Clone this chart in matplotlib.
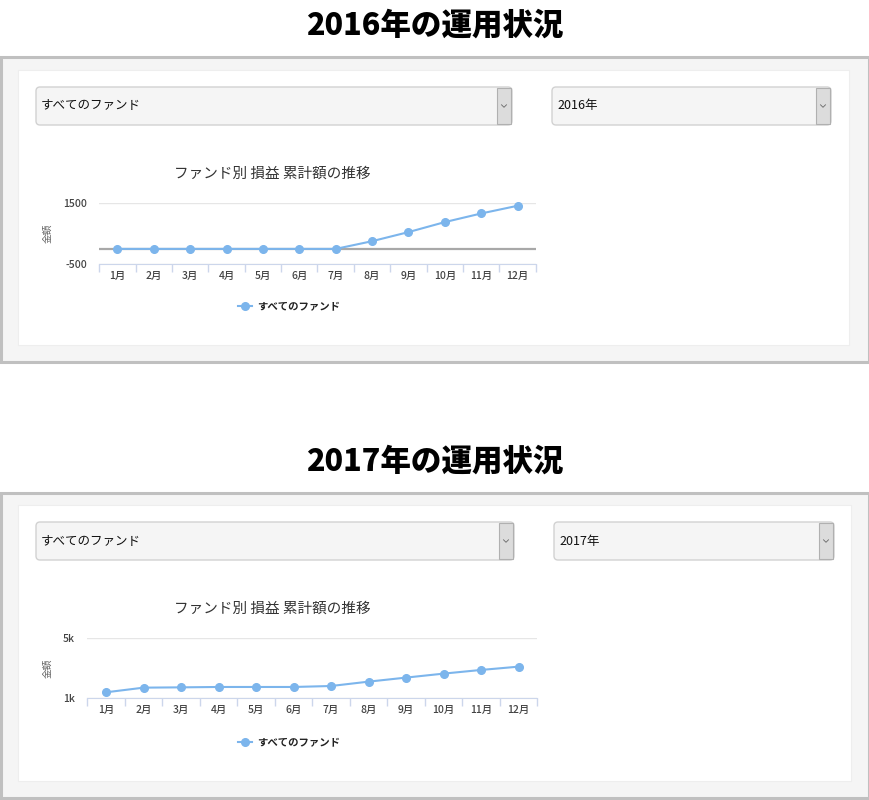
import numpy as np
import matplotlib
matplotlib.use('Agg')
import matplotlib.pyplot as plt
from matplotlib.patches import Rectangle, FancyBboxPatch
from matplotlib.lines import Line2D

plt.rcParams['font.family'] = ['Noto Sans CJK JP', 'DejaVu Sans']

# data
months = ['1月', '2月', '3月', '4月', '5月', '6月', '7月', '8月', '9月', '10月', '11月', '12月']
years = ['2016', '2017']
fund_label = 'すべてのファンド'
chart_title = 'ファンド別 損益 累計額の推移'
values_2016 = [0, 0, 0, 0, 0, 0, 0, 250, 545, 870, 1150, 1400]
values_2017 = [1400, 1710, 1730, 1755, 1755, 1755, 1820, 2110, 2380, 2645, 2890, 3110]
yticks_2016 = [-500, 1500]
yticklabels_2016 = ['-500', '1500']
yticks_2017 = [1000, 5000]
yticklabels_2017 = ['1k', '5k']

W, H = 870, 800
LINE = '#7cb5ec'

fig = plt.figure(figsize=(W / 100, H / 100), dpi=100)
bg = fig.add_axes([0, 0, 1, 1])
bg.set_xlim(0, W)
bg.set_ylim(H, 0)
bg.axis('off')


def fig_rect(x0, y0, x1, y1):
    return [x0 / W, 1 - y1 / H, (x1 - x0) / W, (y1 - y0) / H]


def dropdown(x0, y0, x1, y1, text):
    bg.add_patch(FancyBboxPatch((x0, y0), x1 - x0, y1 - y0,
                                boxstyle='round,pad=0,rounding_size=4',
                                fc='#f5f5f5', ec='#d2d2d2', lw=1))
    bg.add_patch(Rectangle((x1 - 15, y0 + 1), 14, y1 - y0 - 2,
                           fc='#dcdcdc', ec='#b0b0b0', lw=0.8))
    cx, cy = x1 - 8, (y0 + y1) / 2
    bg.plot([cx - 2.5, cx, cx + 2.5], [cy - 1.2, cy + 1.3, cy - 1.2], color='#666666', lw=0.6)
    bg.text(x0 + 5, (y0 + y1) / 2, text, fontsize=9, color='#111111', va='center', ha='left')


panels = [
    dict(head_y=25, outer=(1, 57, 869, 362), inner=(18, 70, 849, 345),
         dd1=(36, 87, 512, 125), dd2=(552, 87, 831, 125),
         plot=(99.3, 202.7, 535.7, 264.3), title_y=174, legend=(289, 307),
         vals=values_2016, yt=yticks_2016, ytl=yticklabels_2016, zero=True),
    dict(head_y=461, outer=(1, 493, 869, 798), inner=(18, 505, 851, 781),
         dd1=(36, 522, 514, 560), dd2=(554, 522, 834, 560),
         plot=(87.3, 638.3, 537.3, 698.3), title_y=609, legend=(289, 743),
         vals=values_2017, yt=yticks_2017, ytl=yticklabels_2017, zero=False),
]

for year, p in zip(years, panels):
    bg.text(W / 2, p['head_y'], year + '年の運用状況', fontsize=22, fontweight='heavy',
            color='black', ha='center', va='center')
    x0, y0, x1, y1 = p['outer']
    bg.add_patch(Rectangle((x0, y0), x1 - x0, y1 - y0, fc='#f5f5f5', ec='#c0c0c0', lw=2.2))
    x0, y0, x1, y1 = p['inner']
    bg.add_patch(Rectangle((x0, y0), x1 - x0, y1 - y0, fc='white', ec='#eeeeee', lw=0.8))
    dropdown(*p['dd1'], fund_label)
    dropdown(*p['dd2'], year + '年')

    px0, py0, px1, py1 = p['plot']
    ax = fig.add_axes(fig_rect(px0, py0, px1, py1))
    ax.patch.set_alpha(0)
    x = np.arange(len(months))
    if p['zero']:
        ax.axhline(0, color='#a8a8a8', lw=1.6, zorder=1)
    ax.plot(x, p['vals'], color=LINE, lw=1.5, marker='o', ms=5.5, zorder=3,
            label=fund_label, clip_on=False)
    ax.set_xlim(-0.5, len(months) - 0.5)
    ax.set_ylim(p['yt'][0], p['yt'][-1])
    ax.set_yticks(p['yt'])
    ax.set_yticklabels(p['ytl'])
    ax.grid(axis='y', color='#e6e6e6', lw=1)
    ax.set_axisbelow(True)
    for s in ['top', 'right', 'left']:
        ax.spines[s].set_visible(False)
    ax.spines['bottom'].set_color('#ccd6eb')
    ax.tick_params(axis='y', length=0, pad=9, labelsize=7.5, labelcolor='#444444')
    ax.set_xticks(np.arange(len(months) + 1) - 0.5)
    ax.set_xticklabels([])
    ax.tick_params(axis='x', which='major', length=6, color='#ccd6eb', width=1)
    ax.set_xticks(x, minor=True)
    ax.set_xticklabels(months, minor=True)
    ax.tick_params(axis='x', which='minor', length=0, pad=5, labelsize=7.5, labelcolor='#444444')
    for t in ax.get_yticklabels() + ax.get_xticklabels(minor=True):
        t.set_fontweight('medium')
    ax.set_ylabel('金額', fontsize=7, color='#666666', rotation=90)
    ax.yaxis.set_label_coords((52 - px0) / (px1 - px0), 0.5)
    ax.set_title(chart_title, fontsize=10.5, color='#333333', pad=0,
                 x=(272 - px0) / (px1 - px0), y=(py1 - p['title_y']) / (py1 - py0), va='center')

    lx, ly = p['legend']
    handle = Line2D([], [], color=LINE, lw=1.5, marker='o', ms=5.5)
    leg = ax.legend([handle], [fund_label], loc='center', frameon=False,
                    bbox_to_anchor=(lx / W, 1 - ly / H), bbox_transform=fig.transFigure,
                    handlelength=1.4, handletextpad=0.5,
                    prop={'size': 7.5, 'weight': 'bold'})
    for t in leg.get_texts():
        t.set_color('#222222')

fig.savefig('out.png', dpi=100)
